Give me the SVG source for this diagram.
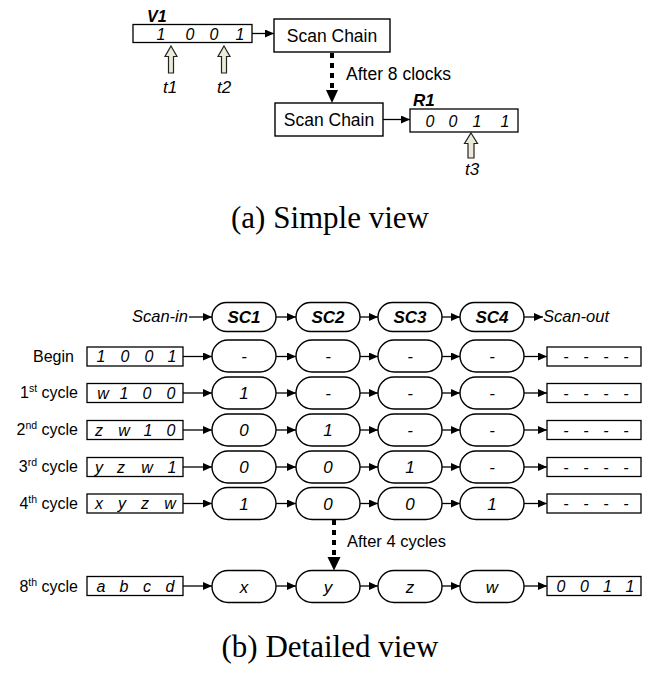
<svg xmlns="http://www.w3.org/2000/svg" width="645" height="692" viewBox="0 0 645 692">
  <style>
    .sans { font-family: "Liberation Sans", Arial, sans-serif; fill: #000; }
    .it { font-style: italic; }
    .bi { font-style: italic; font-weight: bold; }
    .cap { font-family: "Liberation Serif", "Times New Roman", serif; font-size: 31px; fill: #000; }
    .box { fill: #fff; stroke: #000; stroke-width: 1.4; }
    .reg { fill: #fff; stroke: #000; stroke-width: 1.3; }
    .node { fill: #fff; stroke: #000; stroke-width: 1.4; }
    .wire { fill: none; stroke: #000; stroke-width: 1.3; marker-end: url(#ah); }
    .dash { fill: none; stroke: #000; stroke-width: 4; stroke-dasharray: 5 5; }
    .probe { fill: #ebebd8; stroke: #222; stroke-width: 1.2; }
    .v { font-size: 16px; text-anchor: middle; }
    .n { font-size: 17px; text-anchor: middle; }
    .lbl { font-size: 16px; text-anchor: end; }
  </style>
  <defs>
    <marker id="ah" markerUnits="userSpaceOnUse" markerWidth="9" markerHeight="8" refX="9" refY="4" orient="auto">
      <path d="M0,0 L9,4 L0,8 z" fill="#000"/>
    </marker>
  </defs>

  <!-- ===== (a) simple view ===== -->
  <g id="v1">
    <text class="sans bi" x="147" y="22" font-size="16">V1</text>
    <rect class="reg" x="133" y="24.5" width="119" height="18"/>
    <text class="sans it v" y="39.5"><tspan x="161">1</tspan><tspan x="190">0</tspan><tspan x="214">0</tspan><tspan x="240">1</tspan></text>
  </g>
  <g id="chain1">
    <rect class="box" x="274" y="19" width="116" height="33"/>
    <text class="sans" x="332" y="42" font-size="17.5" text-anchor="middle">Scan Chain</text>
  </g>
  <g id="chain2">
    <rect class="box" x="275" y="103" width="108" height="33"/>
    <text class="sans" x="329" y="126" font-size="17.5" text-anchor="middle">Scan Chain</text>
  </g>
  <g id="r1">
    <text class="sans bi" x="413" y="106" font-size="17">R1</text>
    <rect class="reg" x="410" y="109" width="108" height="23"/>
    <text class="sans it v" y="127"><tspan x="430">0</tspan><tspan x="453">0</tspan><tspan x="477">1</tspan><tspan x="505">1</tspan></text>
  </g>
  <g id="t1">
    <path class="probe" d="M171,46 L177,56.5 L173.5,56.5 L173.5,73 L168.5,73 L168.5,56.5 L165,56.5 z"/>
    <text class="sans it" x="170" y="93" font-size="17" text-anchor="middle">t1</text>
  </g>
  <g id="t2">
    <path class="probe" d="M224,46 L230,56.5 L226.5,56.5 L226.5,73 L221.5,73 L221.5,56.5 L218,56.5 z"/>
    <text class="sans it" x="224" y="93" font-size="17" text-anchor="middle">t2</text>
  </g>
  <g id="t3">
    <path class="probe" d="M471,133 L477.5,143.5 L474,143.5 L474,158 L468,158 L468,143.5 L464.5,143.5 z"/>
    <text class="sans it" x="472" y="175" font-size="17" text-anchor="middle">t3</text>
  </g>
  <text class="sans" x="346" y="80" font-size="17.5">After 8 clocks</text>
  <text class="cap" x="330" y="228" text-anchor="middle">(a) Simple view</text>

  <!-- ===== (b) detailed view ===== -->
  <g id="header">
    <text class="sans it" x="132" y="322" font-size="16.5">Scan-in</text>
    <g id="sc1"><rect class="node" x="212" y="302.5" width="64" height="29" rx="14.5"/><text class="sans bi n" x="244" y="323">SC1</text></g>
    <g id="sc2"><rect class="node" x="296" y="302.5" width="64" height="29" rx="14.5"/><text class="sans bi n" x="328" y="323">SC2</text></g>
    <g id="sc3"><rect class="node" x="378" y="302.5" width="64" height="29" rx="14.5"/><text class="sans bi n" x="410" y="323">SC3</text></g>
    <g id="sc4"><rect class="node" x="460" y="302.5" width="64" height="29" rx="14.5"/><text class="sans bi n" x="492" y="323">SC4</text></g>
    <text class="sans it" x="543" y="322" font-size="16.5">Scan-out</text>
  </g>

  <!-- row: Begin -->
  <g id="row-begin">
    <text class="sans" x="33" y="362" font-size="16">Begin</text>
    <rect class="reg" x="87" y="347" width="96" height="19"/>
    <text class="sans it v" y="362"><tspan x="101">1</tspan><tspan x="125">0</tspan><tspan x="149">0</tspan><tspan x="172">1</tspan></text>
    <rect class="node" x="212" y="340" width="64" height="32" rx="16"/><text class="sans it n" x="244" y="362">-</text>
    <rect class="node" x="296" y="340" width="64" height="32" rx="16"/><text class="sans it n" x="328" y="362">-</text>
    <rect class="node" x="378" y="340" width="64" height="32" rx="16"/><text class="sans it n" x="410" y="362">-</text>
    <rect class="node" x="460" y="340" width="64" height="32" rx="16"/><text class="sans it n" x="492" y="362">-</text>
    <rect class="reg" x="547" y="347" width="94" height="19"/>
    <text class="sans it v" y="362"><tspan x="566">-</tspan><tspan x="586">-</tspan><tspan x="606">-</tspan><tspan x="626">-</tspan></text>
  </g>

  <!-- row: 1st cycle -->
  <g id="row-1">
    <text class="sans lbl" x="78" y="398">1<tspan font-size="10.5" dy="-6">st</tspan><tspan dy="6"> cycle</tspan></text>
    <rect class="reg" x="87" y="383.5" width="96" height="19"/>
    <text class="sans it v" y="398.5"><tspan x="103">w</tspan><tspan x="124">1</tspan><tspan x="147">0</tspan><tspan x="171">0</tspan></text>
    <rect class="node" x="212" y="377" width="64" height="32" rx="16"/><text class="sans it n" x="244" y="399">1</text>
    <rect class="node" x="296" y="377" width="64" height="32" rx="16"/><text class="sans it n" x="328" y="399">-</text>
    <rect class="node" x="378" y="377" width="64" height="32" rx="16"/><text class="sans it n" x="410" y="399">-</text>
    <rect class="node" x="460" y="377" width="64" height="32" rx="16"/><text class="sans it n" x="492" y="399">-</text>
    <rect class="reg" x="547" y="383.5" width="94" height="19"/>
    <text class="sans it v" y="398.5"><tspan x="566">-</tspan><tspan x="586">-</tspan><tspan x="606">-</tspan><tspan x="626">-</tspan></text>
  </g>

  <!-- row: 2nd cycle -->
  <g id="row-2">
    <text class="sans lbl" x="78" y="435">2<tspan font-size="10.5" dy="-6">nd</tspan><tspan dy="6"> cycle</tspan></text>
    <rect class="reg" x="87" y="420.5" width="96" height="19"/>
    <text class="sans it v" y="435.5"><tspan x="99">z</tspan><tspan x="124">w</tspan><tspan x="148">1</tspan><tspan x="171">0</tspan></text>
    <rect class="node" x="212" y="414" width="64" height="32" rx="16"/><text class="sans it n" x="244" y="436">0</text>
    <rect class="node" x="296" y="414" width="64" height="32" rx="16"/><text class="sans it n" x="328" y="436">1</text>
    <rect class="node" x="378" y="414" width="64" height="32" rx="16"/><text class="sans it n" x="410" y="436">-</text>
    <rect class="node" x="460" y="414" width="64" height="32" rx="16"/><text class="sans it n" x="492" y="436">-</text>
    <rect class="reg" x="547" y="420.5" width="94" height="19"/>
    <text class="sans it v" y="435.5"><tspan x="566">-</tspan><tspan x="586">-</tspan><tspan x="606">-</tspan><tspan x="626">-</tspan></text>
  </g>

  <!-- row: 3rd cycle -->
  <g id="row-3">
    <text class="sans lbl" x="78" y="472">3<tspan font-size="10.5" dy="-6">rd</tspan><tspan dy="6"> cycle</tspan></text>
    <rect class="reg" x="87" y="457.5" width="96" height="19"/>
    <text class="sans it v" y="472.5"><tspan x="99">y</tspan><tspan x="121">z</tspan><tspan x="147">w</tspan><tspan x="172">1</tspan></text>
    <rect class="node" x="212" y="451" width="64" height="32" rx="16"/><text class="sans it n" x="244" y="473">0</text>
    <rect class="node" x="296" y="451" width="64" height="32" rx="16"/><text class="sans it n" x="328" y="473">0</text>
    <rect class="node" x="378" y="451" width="64" height="32" rx="16"/><text class="sans it n" x="410" y="473">1</text>
    <rect class="node" x="460" y="451" width="64" height="32" rx="16"/><text class="sans it n" x="492" y="473">-</text>
    <rect class="reg" x="547" y="457.5" width="94" height="19"/>
    <text class="sans it v" y="472.5"><tspan x="566">-</tspan><tspan x="586">-</tspan><tspan x="606">-</tspan><tspan x="626">-</tspan></text>
  </g>

  <!-- row: 4th cycle -->
  <g id="row-4">
    <text class="sans lbl" x="78" y="509">4<tspan font-size="10.5" dy="-6">th</tspan><tspan dy="6"> cycle</tspan></text>
    <rect class="reg" x="87" y="494" width="96" height="19"/>
    <text class="sans it v" y="509"><tspan x="99">x</tspan><tspan x="122">y</tspan><tspan x="145">z</tspan><tspan x="170">w</tspan></text>
    <rect class="node" x="212" y="487.5" width="64" height="32" rx="16"/><text class="sans it n" x="244" y="509.5">1</text>
    <rect class="node" x="296" y="487.5" width="64" height="32" rx="16"/><text class="sans it n" x="328" y="509.5">0</text>
    <rect class="node" x="378" y="487.5" width="64" height="32" rx="16"/><text class="sans it n" x="410" y="509.5">0</text>
    <rect class="node" x="460" y="487.5" width="64" height="32" rx="16"/><text class="sans it n" x="492" y="509.5">1</text>
    <rect class="reg" x="547" y="494" width="94" height="19"/>
    <text class="sans it v" y="509"><tspan x="566">-</tspan><tspan x="586">-</tspan><tspan x="606">-</tspan><tspan x="626">-</tspan></text>
  </g>

  <!-- row: 8th cycle -->
  <g id="row-8">
    <text class="sans lbl" x="78" y="592">8<tspan font-size="10.5" dy="-6">th</tspan><tspan dy="6"> cycle</tspan></text>
    <rect class="reg" x="87" y="576.5" width="96" height="19"/>
    <text class="sans it v" y="591.5"><tspan x="101">a</tspan><tspan x="124">b</tspan><tspan x="147">c</tspan><tspan x="170">d</tspan></text>
    <rect class="node" x="212" y="570.5" width="64" height="32" rx="16"/><text class="sans it n" x="244" y="592.5">x</text>
    <rect class="node" x="296" y="570.5" width="64" height="32" rx="16"/><text class="sans it n" x="328" y="592.5">y</text>
    <rect class="node" x="378" y="570.5" width="64" height="32" rx="16"/><text class="sans it n" x="410" y="592.5">z</text>
    <rect class="node" x="460" y="570.5" width="64" height="32" rx="16"/><text class="sans it n" x="492" y="592.5">w</text>
    <rect class="reg" x="547" y="576.5" width="94" height="19"/>
    <text class="sans it v" y="591.5"><tspan x="561">0</tspan><tspan x="584.5">0</tspan><tspan x="607.5">1</tspan><tspan x="630">1</tspan></text>
  </g>

  <text class="sans" x="347" y="547" font-size="16.5">After 4 cycles</text>
  <text class="cap" x="330" y="657" text-anchor="middle">(b) Detailed view</text>

  <!-- connectors -->
  <g id="connectors">
    <line class="wire" x1="252" y1="33.5" x2="274" y2="33.5"/>
    <line class="wire" x1="383" y1="119.5" x2="410" y2="119.5"/>
    <line class="dash" x1="332" y1="53" x2="332" y2="90"/>
    <path d="M326,90 L338,90 L332,103 z" fill="#000"/>

    <line class="wire" x1="189" y1="317" x2="212" y2="317"/>
    <line class="wire" x1="276" y1="317" x2="296" y2="317"/>
    <line class="wire" x1="360" y1="317" x2="378" y2="317"/>
    <line class="wire" x1="442" y1="317" x2="460" y2="317"/>
    <line class="wire" x1="524" y1="317" x2="543" y2="317"/>

    <g id="w-begin">
      <line class="wire" x1="183" y1="356.5" x2="212" y2="356.5"/>
      <line class="wire" x1="276" y1="356.5" x2="296" y2="356.5"/>
      <line class="wire" x1="360" y1="356.5" x2="378" y2="356.5"/>
      <line class="wire" x1="442" y1="356.5" x2="460" y2="356.5"/>
      <line class="wire" x1="524" y1="356.5" x2="547" y2="356.5"/>
    </g>
    <g id="w-1">
      <line class="wire" x1="183" y1="393" x2="212" y2="393"/>
      <line class="wire" x1="276" y1="393" x2="296" y2="393"/>
      <line class="wire" x1="360" y1="393" x2="378" y2="393"/>
      <line class="wire" x1="442" y1="393" x2="460" y2="393"/>
      <line class="wire" x1="524" y1="393" x2="547" y2="393"/>
    </g>
    <g id="w-2">
      <line class="wire" x1="183" y1="430" x2="212" y2="430"/>
      <line class="wire" x1="276" y1="430" x2="296" y2="430"/>
      <line class="wire" x1="360" y1="430" x2="378" y2="430"/>
      <line class="wire" x1="442" y1="430" x2="460" y2="430"/>
      <line class="wire" x1="524" y1="430" x2="547" y2="430"/>
    </g>
    <g id="w-3">
      <line class="wire" x1="183" y1="467" x2="212" y2="467"/>
      <line class="wire" x1="276" y1="467" x2="296" y2="467"/>
      <line class="wire" x1="360" y1="467" x2="378" y2="467"/>
      <line class="wire" x1="442" y1="467" x2="460" y2="467"/>
      <line class="wire" x1="524" y1="467" x2="547" y2="467"/>
    </g>
    <g id="w-4">
      <line class="wire" x1="183" y1="503.5" x2="212" y2="503.5"/>
      <line class="wire" x1="276" y1="503.5" x2="296" y2="503.5"/>
      <line class="wire" x1="360" y1="503.5" x2="378" y2="503.5"/>
      <line class="wire" x1="442" y1="503.5" x2="460" y2="503.5"/>
      <line class="wire" x1="524" y1="503.5" x2="547" y2="503.5"/>
    </g>
    <g id="w-8">
      <line class="wire" x1="183" y1="586" x2="212" y2="586"/>
      <line class="wire" x1="276" y1="586" x2="296" y2="586"/>
      <line class="wire" x1="360" y1="586" x2="378" y2="586"/>
      <line class="wire" x1="442" y1="586" x2="460" y2="586"/>
      <line class="wire" x1="524" y1="586" x2="547" y2="586"/>
    </g>
    <line class="dash" x1="334" y1="520" x2="334" y2="557"/>
    <path d="M327.5,557 L340.5,557 L334,570.5 z" fill="#000"/>
  </g>
</svg>
